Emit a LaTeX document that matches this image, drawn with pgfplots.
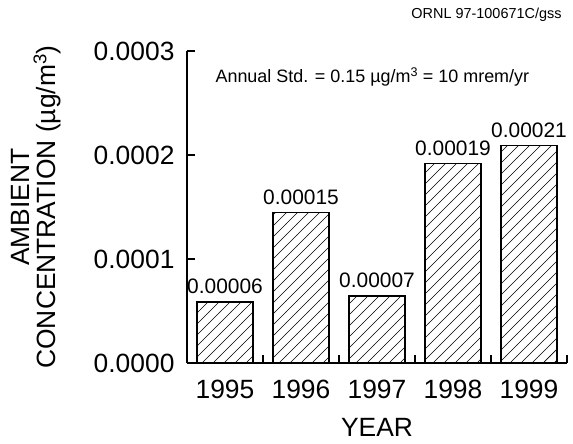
\documentclass[border=0pt]{standalone}
\usepackage{fontspec}
\setmainfont{Liberation Sans}
\usepackage{pgfplots}
\pgfplotsset{compat=1.18}
\usetikzlibrary{patterns.meta}
\tikzdeclarepattern{
  name=myhatch,
  type=uncolored,
  bottom left={(-.1bp,-.1bp)},
  top right={(11.1bp,11.1bp)},
  tile size={(11bp,11bp)},
  code={
    \pgfsetlinewidth{0.7bp}
    \pgfpathmoveto{\pgfqpoint{-1bp}{-1bp}}
    \pgfpathlineto{\pgfqpoint{12bp}{12bp}}
    \pgfusepath{stroke}
  }
}
\begin{document}
\begin{tikzpicture}
\path[use as bounding box] (-187bp,-81bp) rectangle (386bp,363bp);
\begin{axis}[
  at={(0,0)}, anchor=south west,
  width=380bp, height=312bp, scale only axis,
  xmin=-0.5, xmax=4.5, ymin=0, ymax=0.0003,
  axis x line*=bottom, axis y line*=left,
  axis line style={line width=1.6bp,-},
  xtick={0,1,2,3,4}, xticklabels={1995,1996,1997,1998,1999},
  major x tick style={draw=none},
  extra x ticks={0.5,1.5,2.5,3.5,4.5}, extra x tick labels={},
  extra x tick style={major x tick style={draw=black,line width=1.6bp}},
  ytick={0,0.0001,0.0002,0.0003}, yticklabels={0.0000,0.0001,0.0002,0.0003},
  scaled y ticks=false,
  y tick style={line width=1.6bp,black},
  tick align=inside, major tick length=8bp,
  /pgf/number format/assume math mode=true,
  tick label style={font=\fontsize{26.5}{30}\selectfont},
  y tick label style={xshift=-9bp},
  x tick label style={yshift=-14bp},
  every axis x label/.style={at={(axis description cs:0.5,-0.205)}, anchor=center},
  every axis y label/.style={at={(axis description cs:-0.397,0.5)}, anchor=center, rotate=90, align=center},
  xlabel={YEAR},
  ylabel={AMBIENT\\CONCENTRATION (µg/m\textsuperscript{3})},
  label style={font=\fontsize{26.5}{26}\selectfont},
  clip=false,
]
\addplot[ybar, bar width=56bp, draw=black, line width=1.2bp,
  pattern=myhatch, pattern color=black,
  nodes near coords, point meta=explicit symbolic,
  every node near coord/.append style={font=\fontsize{21}{24}\selectfont, text=black, yshift=4bp}]
  coordinates {
  (0,0.0000587) [0.00006]
  (1,0.000145) [0.00015]
  (2,0.0000644) [0.00007]
  (3,0.000192) [0.00019]
  (4,0.000209) [0.00021]
  };
\node[anchor=west, font=\fontsize{18}{20}\selectfont] at (axis description cs:0.066,0.917) {Annual Std. = 0.15 µg/m\textsuperscript{3} = 10 mrem/yr};
\node[anchor=east, font=\fontsize{14.5}{16}\selectfont] at (axis description cs:0.995,1.115) {ORNL 97-100671C/gss};
\end{axis}
\end{tikzpicture}
\end{document}
